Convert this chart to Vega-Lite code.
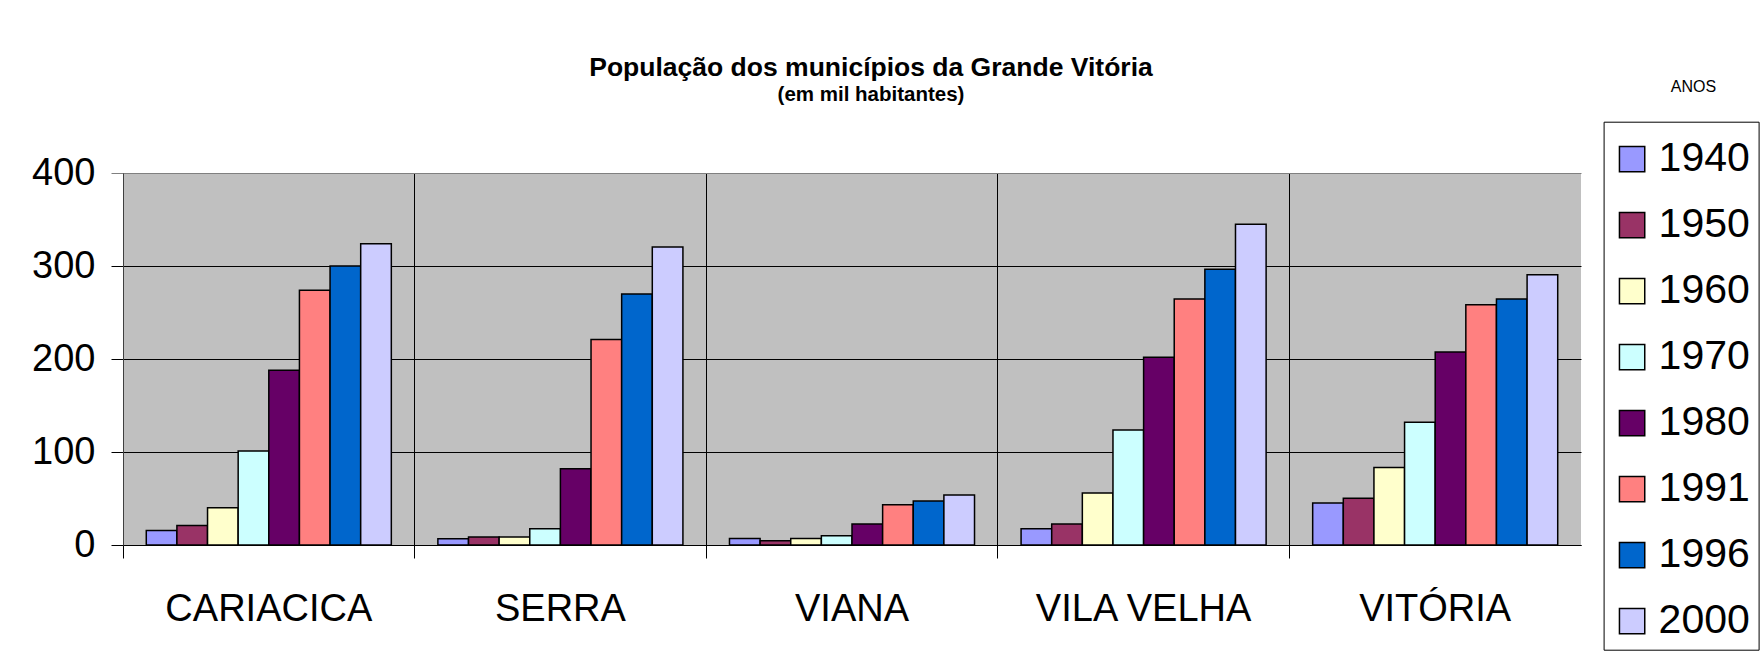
{
  "$schema": "https://vega.github.io/schema/vega-lite/v6.json",
  "width": 1458,
  "height": 372,
  "autosize": {"type": "none"},
  "padding": {"left": 123, "top": 173, "right": 179, "bottom": 112},
  "background": "white",
  "title": {
    "text": "População dos municípios da Grande Vitória",
    "subtitle": "(em mil habitantes)",
    "font": "Liberation Sans",
    "subtitleFont": "Liberation Sans",
    "fontSize": 26.5,
    "subtitleFontSize": 20.5,
    "fontWeight": "bold",
    "subtitleFontWeight": "bold",
    "color": "black",
    "subtitleColor": "black",
    "anchor": "middle",
    "frame": "group",
    "dx": 19,
    "offset": -27,
    "subtitlePadding": 3
  },
  "data": {
    "values": [
      {"municipio": "CARIACICA", "ano": "1940", "pop": 15.5},
      {"municipio": "CARIACICA", "ano": "1950", "pop": 21},
      {"municipio": "CARIACICA", "ano": "1960", "pop": 40},
      {"municipio": "CARIACICA", "ano": "1970", "pop": 101},
      {"municipio": "CARIACICA", "ano": "1980", "pop": 188},
      {"municipio": "CARIACICA", "ano": "1991", "pop": 274},
      {"municipio": "CARIACICA", "ano": "1996", "pop": 300},
      {"municipio": "CARIACICA", "ano": "2000", "pop": 324},
      {"municipio": "SERRA", "ano": "1940", "pop": 6.8},
      {"municipio": "SERRA", "ano": "1950", "pop": 8.6},
      {"municipio": "SERRA", "ano": "1960", "pop": 8.6},
      {"municipio": "SERRA", "ano": "1970", "pop": 17.6},
      {"municipio": "SERRA", "ano": "1980", "pop": 82},
      {"municipio": "SERRA", "ano": "1991", "pop": 221},
      {"municipio": "SERRA", "ano": "1996", "pop": 270},
      {"municipio": "SERRA", "ano": "2000", "pop": 320.5},
      {"municipio": "VIANA", "ano": "1940", "pop": 7},
      {"municipio": "VIANA", "ano": "1950", "pop": 4.7},
      {"municipio": "VIANA", "ano": "1960", "pop": 7},
      {"municipio": "VIANA", "ano": "1970", "pop": 10},
      {"municipio": "VIANA", "ano": "1980", "pop": 22.6},
      {"municipio": "VIANA", "ano": "1991", "pop": 43.4},
      {"municipio": "VIANA", "ano": "1996", "pop": 47.3},
      {"municipio": "VIANA", "ano": "2000", "pop": 53.8},
      {"municipio": "VILA VELHA", "ano": "1940", "pop": 17.6},
      {"municipio": "VILA VELHA", "ano": "1950", "pop": 22.6},
      {"municipio": "VILA VELHA", "ano": "1960", "pop": 56},
      {"municipio": "VILA VELHA", "ano": "1970", "pop": 123.7},
      {"municipio": "VILA VELHA", "ano": "1980", "pop": 202},
      {"municipio": "VILA VELHA", "ano": "1991", "pop": 264.5},
      {"municipio": "VILA VELHA", "ano": "1996", "pop": 296.4},
      {"municipio": "VILA VELHA", "ano": "2000", "pop": 345},
      {"municipio": "VITÓRIA", "ano": "1940", "pop": 45.2},
      {"municipio": "VITÓRIA", "ano": "1950", "pop": 50.2},
      {"municipio": "VITÓRIA", "ano": "1960", "pop": 83.2},
      {"municipio": "VITÓRIA", "ano": "1970", "pop": 132},
      {"municipio": "VITÓRIA", "ano": "1980", "pop": 207.5},
      {"municipio": "VITÓRIA", "ano": "1991", "pop": 258.4},
      {"municipio": "VITÓRIA", "ano": "1996", "pop": 264.5},
      {"municipio": "VITÓRIA", "ano": "2000", "pop": 290.7}
    ]
  },
  "mark": {"type": "bar", "stroke": "black", "strokeWidth": 1.5, "opacity": 1},
  "encoding": {
    "x": {
      "field": "municipio",
      "type": "nominal",
      "sort": null,
      "scale": {"paddingInner": 0, "paddingOuter": 0},
      "axis": {
        "title": "ANOS",
        "titleFont": "Liberation Sans",
        "titleFontSize": 16,
        "titleFontWeight": "normal",
        "titleColor": "black",
        "titleX": 1570,
        "titleY": -459,
        "titleAlign": "center",
        "titleBaseline": "middle",
        "bandPosition": 0,
        "labelAngle": 0,
        "labelOffset": 0,
        "labelLimit": 500,
        "labelFont": "Liberation Sans",
        "labelFontSize": 38,
        "labelColor": "black",
        "labelPadding": 32,
        "labelBaseline": "top",
        "domain": true,
        "domainColor": "black",
        "domainWidth": 1,
        "ticks": true,
        "tickSize": 13,
        "tickColor": "black",
        "tickWidth": 1,
        "grid": true,
        "gridColor": "black",
        "gridWidth": 1
      }
    },
    "xOffset": {
      "field": "ano",
      "type": "nominal",
      "scale": {"paddingInner": 0, "paddingOuter": 0.76}
    },
    "y": {
      "field": "pop",
      "type": "quantitative",
      "scale": {"domain": [0, 400], "nice": false},
      "axis": {
        "title": null,
        "values": [0, 100, 200, 300, 400],
        "labelFont": "Liberation Sans",
        "labelFontSize": 38,
        "labelColor": "black",
        "labelPadding": 16,
        "tickSize": 12,
        "tickColor": {"condition": {"test": "datum.value === 400", "value": "#808080"}, "value": "black"},
        "tickWidth": 1,
        "domain": true,
        "domainColor": "#404040",
        "grid": true,
        "gridColor": {"condition": {"test": "datum.value === 400", "value": "#808080"}, "value": "black"},
        "gridWidth": 1
      }
    },
    "color": {
      "field": "ano",
      "type": "nominal",
      "scale": {
        "domain": ["1940", "1950", "1960", "1970", "1980", "1991", "1996", "2000"],
        "range": ["#9999FF", "#993366", "#FFFFCC", "#CCFFFF", "#660066", "#FF8080", "#0066CC", "#CCCCFF"]
      },
      "legend": {
        "title": " ",
        "titleFontSize": 1,
        "titlePadding": 8,
        "orient": "none",
        "legendX": 1480.6,
        "legendY": -51.3,
        "strokeColor": "black",
        "fillColor": "white",
        "padding": 8,
        "labelFont": "Liberation Sans",
        "labelFontSize": 41,
        "labelColor": "black",
        "labelOffset": 6,
        "labelLimit": 300,
        "symbolType": "square",
        "symbolSize": 640,
        "symbolStrokeColor": "black",
        "symbolStrokeWidth": 1.5,
        "symbolOpacity": 1,
        "rowPadding": 24
      }
    }
  },
  "config": {
    "view": {"fill": "#C0C0C0", "stroke": null},
    "font": "Liberation Sans"
  }
}
